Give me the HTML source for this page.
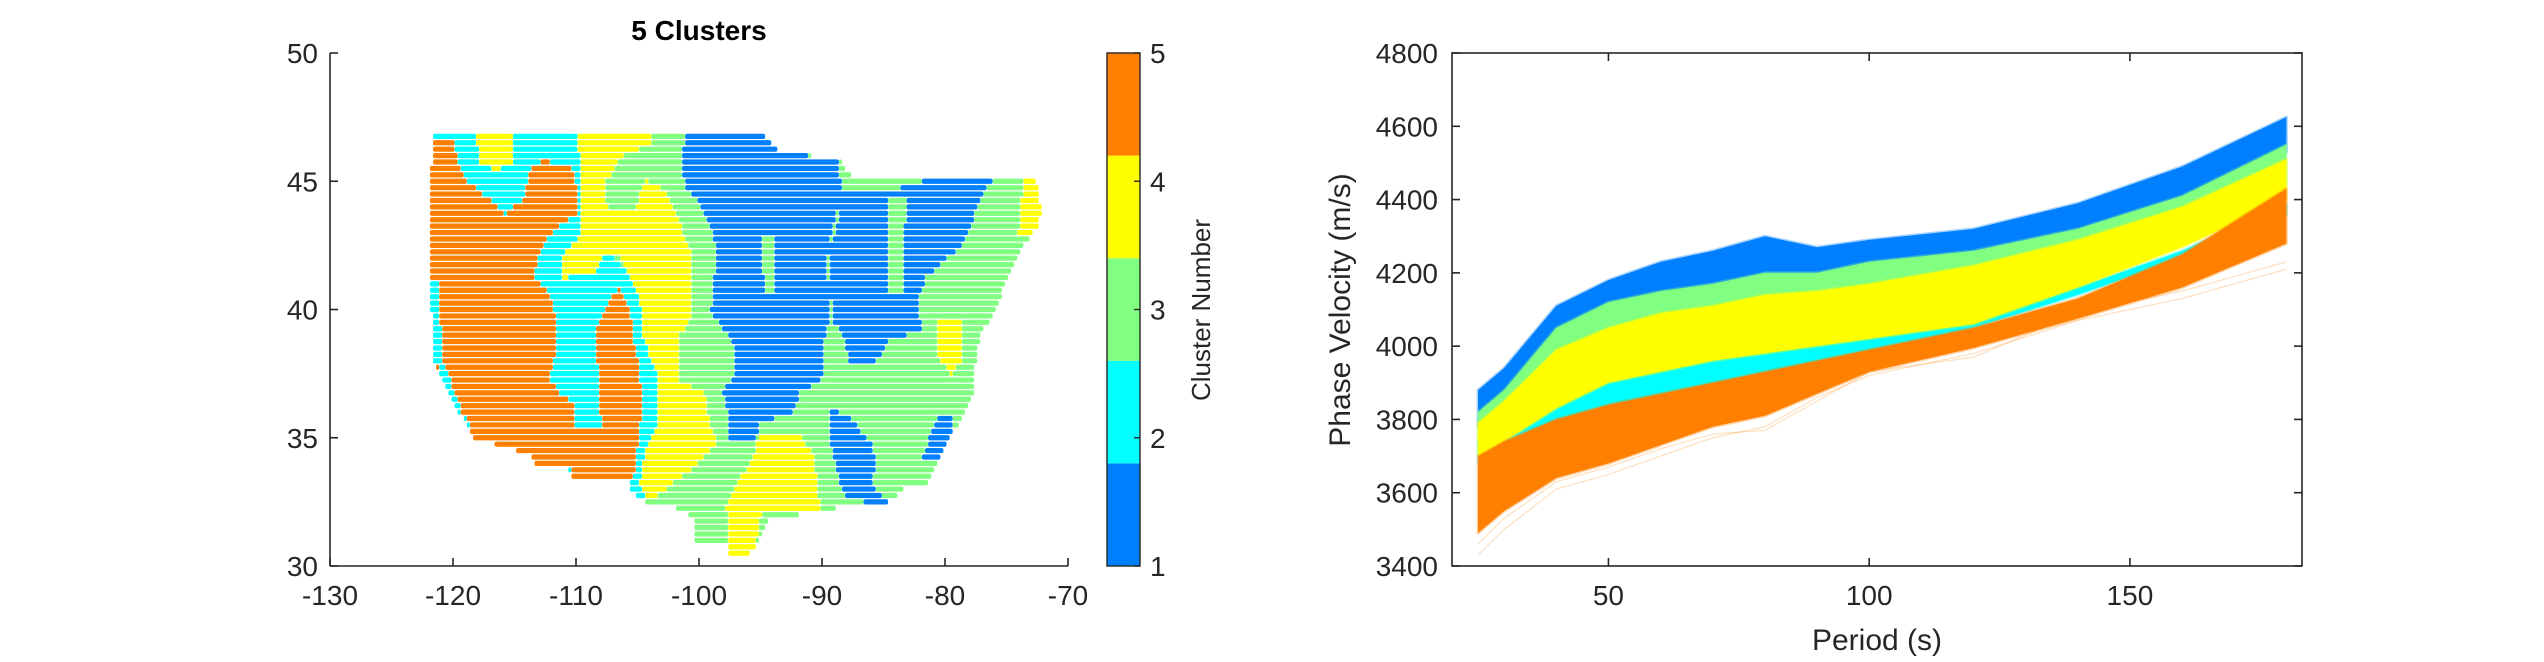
<!DOCTYPE html>
<html><head><meta charset="utf-8">
<style>
html,body{margin:0;padding:0;background:#fff;}
svg{display:block;font-family:"Liberation Sans",Arial,sans-serif;}
</style></head>
<body>
<svg id="fig" width="2544" height="662" viewBox="0 0 2544 662" xmlns="http://www.w3.org/2000/svg">
<rect width="2544" height="662" fill="#fff"/>
<g id="map"></g>
<g id="cbar"></g>
<g id="vel"></g>
</svg>
<script>
// ---------- Map data (digitized region outlines, lon/lat derived) ----------
const mapLonTicks = [-130,-120,-110,-100,-90,-80,-70];
const mapLatTicks = [30,35,40,45,50];
const clusterColors = ['#0080ff','#00ffff','#80ff80','#ffff00','#ff8000'];
const clusterLabels = ['1','2','3','4','5'];
const outlineDig = [[290,318],[800,318],[830,360],[920,378],[940,420],[1040,425],[1228,425],[1237,500],[1230,540],[1210,580],[1190,640],[1165,735],[1140,800],[1135,850],[1130,930],[1125,960],[1100,1020],[1080,1080],[1065,1120],[1060,1145],[1020,1160],[995,1195],[950,1190],[915,1205],[880,1215],[810,1230],[795,1290],[780,1315],[750,1315],[745,1280],[695,1285],[695,1230],[670,1205],[620,1190],[598,1170],[595,1140],[545,1135],[505,1135],[500,1110],[445,1105],[440,1080],[380,1050],[350,1045],[340,1000],[320,960],[300,900],[290,860],[285,740],[285,400],[290,330]];
const cyanDig = [[283,310],[520,310],[525,550],[560,600],[600,650],[630,800],[645,900],[640,1000],[625,1100],[620,1190],[595,1190],[590,1140],[283,1140]];
const orangeDig = [[290,330],[320,330],[330,400],[340,430],[380,480],[400,510],[430,470],[440,400],[460,380],[505,400],[515,470],[515,510],[490,530],[470,560],[455,600],[445,660],[470,700],[480,760],[480,820],[470,900],[490,940],[510,960],[505,1020],[555,1020],[545,950],[545,880],[540,780],[565,700],[580,685],[595,730],[600,800],[610,880],[615,960],[605,1080],[600,1140],[505,1140],[500,1100],[445,1100],[440,1080],[380,1050],[350,1050],[345,1010],[330,970],[310,930],[295,880],[290,820],[285,700],[285,400]];
const cyanWestDig = [[283,660],[296,660],[302,850],[335,985],[348,1012],[333,1012],[300,905],[283,770]];
const yellow1Dig = [[355,305],[415,305],[410,390],[385,405],[360,390]];
const yellow2Dig = [[515,320],[630,320],[625,345],[585,370],[570,400],[555,440],[555,490],[600,500],[620,430],[640,440],[660,480],[680,560],[690,600],[690,680],[690,760],[670,800],[670,900],[710,930],[720,1000],[730,1050],[700,1100],[650,1160],[620,1190],[610,1140],[620,1060],[640,1000],[640,900],[615,800],[610,700],[590,650],[580,610],[550,610],[540,650],[490,660],[490,600],[520,560],[520,420],[515,360]];
const yellow3Dig = [[800,1030],[860,1030],[880,1080],[890,1180],[895,1210],[800,1210],[790,1300],[775,1315],[750,1315],[745,1200],[760,1150],[780,1100]];
const yellow4Dig = [[1075,760],[1110,750],[1115,850],[1095,890],[1075,840]];
const yellow5Dig = [[1210,425],[1232,425],[1238,500],[1225,560],[1200,560],[1205,480]];
const blue1Dig = [[680,318],[800,318],[830,360],[920,380],[925,450],[910,550],[900,640],[910,700],[905,760],[895,830],[895,900],[860,930],[850,980],[800,1000],[790,1040],[750,1040],[745,960],[740,930],[760,880],[760,820],[740,780],[720,740],[725,680],[730,600],[720,540],[700,480],[680,440],[675,400]];
const blue2Dig = [[915,450],[1000,455],[1050,430],[1160,425],[1135,500],[1115,580],[1085,620],[1055,660],[1045,720],[1050,790],[1000,800],[975,870],[935,870],[930,800],[910,760],[905,600],[920,520]];
const blue3Dig = [[905,965],[940,990],[975,1060],[980,1110],[970,1150],[1000,1190],[960,1190],[925,1170],[915,1100],[905,1030]];
const blue4Dig = [[1075,980],[1100,990],[1100,1030],[1085,1100],[1050,1090],[1060,1040]];
const greenStreakDig = [[995,470],[1025,470],[1020,700],[1000,700]];
const greenStreak2Dig = [[800,560],[820,560],[822,700],[805,700]];

// ---------- Velocity data ----------
const periods = [25,30,40,50,60,70,80,90,100,120,140,160,180];
const blueUpper   = [3880,3940,4110,4180,4230,4260,4300,4270,4290,4320,4390,4490,4625];
const blueLower   = [3780,3850,4050,4110,4140,4170,4200,4200,4230,4260,4320,4410,4530];
const greenUpper  = [3820,3880,4050,4120,4150,4170,4200,4200,4230,4260,4320,4410,4550];
const greenLower  = [3720,3780,3940,4000,4030,4060,4080,4100,4120,4150,4210,4300,4440];
const yellowUpper = [3790,3850,3990,4050,4090,4110,4140,4150,4170,4220,4290,4380,4510];
const yellowLower = [3700,3740,3830,3900,3930,3960,3980,4000,4020,4060,4160,4270,4400];
const cyanUpper   = [3740,3780,3860,3930,3960,3990,4010,4030,4050,4100,4160,4260,4390];
const cyanLower   = [3680,3720,3780,3830,3860,3890,3920,3950,3980,4050,4140,4240,4360];
const orangeUpper = [3700,3740,3800,3840,3870,3900,3930,3960,3990,4050,4130,4250,4430];
const orangeLower = [3490,3550,3640,3680,3730,3780,3810,3870,3930,3995,4075,4160,4280];
const orangeOutlier1 = [3430,3500,3610,3650,3700,3750,3780,3860,3920,3980,4070,4130,4210];
const orangeOutlier2 = [3460,3530,3630,3670,3720,3760,3770,3850,3930,3970,4090,4150,4230];
const velYTicks = [3400,3600,3800,4000,4200,4400,4600,4800];
const velXTicks = [50,100,150];

const NS='http://www.w3.org/2000/svg';
function mk(tag, attrs, parent){const e=document.createElementNS(NS,tag);for(const k in attrs)e.setAttribute(k,attrs[k]);parent.appendChild(e);return e;}

// ---------- Map axes ----------
const M={x0:330,x1:1068,y0:566,y1:53,lonMin:-130,lonMax:-70,latMin:30,latMax:50};
const mx=l=>M.x0+(l-M.lonMin)/(M.lonMax-M.lonMin)*(M.x1-M.x0);
const my=l=>M.y0-(l-M.latMin)/(M.latMax-M.latMin)*(M.y0-M.y1);
function dig2geo(p){return p.map(([dx,dy])=>[-130+(dx-127)/19.183, 30+(1341-dy)/60.7]);}
function inside(poly,x,y){let c=false;for(let i=0,j=poly.length-1;i<poly.length;j=i++){const [xi,yi]=poly[i],[xj,yj]=poly[j];if(((yi>y)!==(yj>y))&&(x<(xj-xi)*(y-yi)/(yj-yi)+xi))c=!c;}return c;}
const outline=dig2geo(outlineDig);
const regions=[[2,cyanDig],[5,orangeDig],[2,cyanWestDig],[4,yellow1Dig],[4,yellow2Dig],[4,yellow3Dig],[4,yellow4Dig],[4,yellow5Dig],[1,blue1Dig],[1,blue2Dig],[1,blue3Dig],[1,blue4Dig],[3,greenStreakDig],[3,greenStreak2Dig]].map(([c,p])=>({c,p:dig2geo(p)}));
const mapG=document.getElementById('map');
const dotsG=mk('g',{},mapG);


const step=0.25;
for(let lat=30.5;lat<=46.8;lat+=step){
  let runC=null,runStart=null,prevLon=null;
  const flush=()=>{if(runC!==null){const xa=mx(runStart-step/2),xb=mx(prevLon+step/2);const r=mk('rect',{x:xa,y:my(lat)-2.6,width:xb-xa,height:5.2,rx:2,fill:clusterColors[runC-1]},dotsG);

}runC=null;};
  for(let lon=-122.5;lon<=-71.5;lon+=step){
    let c=null;
    if(inside(outline,lon,lat)){c=3;for(const r of regions){if(inside(r.p,lon,lat))c=r.c;}}
    if(c!==runC){flush();if(c!==null){runC=c;runStart=lon;}}
    prevLon=lon;
  }
  flush();
}
// map axes lines & ticks
const mAx=mk('g',{stroke:'#262626','stroke-width':1.6,fill:'none'},mapG);


mk('line',{x1:M.x0,y1:M.y1,x2:M.x0,y2:M.y0},mAx);
mk('line',{x1:M.x0,y1:M.y0,x2:M.x1,y2:M.y0},mAx);
mapLonTicks.forEach(v=>{mk('line',{x1:mx(v),y1:M.y0,x2:mx(v),y2:M.y0-8},mAx);
const t=mk('text',{x:mx(v),y:605,'text-anchor':'middle','font-size':28,fill:'#262626'},mapG);t.textContent=v;

});
mapLatTicks.forEach(v=>{mk('line',{x1:M.x0,y1:my(v),x2:M.x0+8,y2:my(v)},mAx);
const t=mk('text',{x:318,y:my(v)+10,'text-anchor':'end','font-size':28,fill:'#262626'},mapG);t.textContent=v;

});
const title=mk('text',{x:699,y:40,'text-anchor':'middle','font-size':28,'font-weight':'bold',fill:'#000'},mapG);title.textContent='5 Clusters';



// ---------- Colorbar ----------
const cb=document.getElementById('cbar');
const CB={x:1107,w:33,y0:566,y1:53};
const segH=(CB.y0-CB.y1)/clusterColors.length;
clusterColors.forEach((c,i)=>{const r=mk('rect',{x:CB.x,y:CB.y0-(i+1)*segH,width:CB.w,height:segH,fill:c},cb);

});
mk('rect',{x:CB.x,y:CB.y1,width:CB.w,height:CB.y0-CB.y1,fill:'none',stroke:'#262626','stroke-width':1.4},cb);
clusterLabels.forEach((l,i)=>{const y=CB.y0-i*(CB.y0-CB.y1)/(clusterLabels.length-1);
mk('line',{x1:CB.x+CB.w-6,y1:y,x2:CB.x+CB.w,y2:y,stroke:'#262626','stroke-width':1.4},cb);
const t=mk('text',{x:1150,y:y+10,'font-size':28,fill:'#262626'},cb);t.textContent=l;

});
const cbt=mk('text',{x:0,y:0,'text-anchor':'middle','font-size':26,fill:'#262626',transform:'translate(1210,310) rotate(-90)'},cb);cbt.textContent='Cluster Number';



// ---------- Velocity chart ----------
const V={x0:1452,x1:2302,y0:566,y1:53,pMin:20,pMax:183,vMin:3400,vMax:4800};
const vx=p=>V.x0+(p-V.pMin)/(V.pMax-V.pMin)*(V.x1-V.x0);
const vy=v=>V.y0-(v-V.vMin)/(V.vMax-V.vMin)*(V.y0-V.y1);
const vg=document.getElementById('vel');
function band(up,lo,color,name){
  const pts=periods.map((p,i)=>vx(p)+','+vy(up[i])).concat(periods.slice().reverse().map((p,k)=>{const i=periods.length-1-k;return vx(p)+','+vy(lo[i]);}));
  const poly=mk('polygon',{points:pts.join(' '),fill:color,stroke:color,'stroke-width':3,'stroke-opacity':0.35,'stroke-linejoin':'round'},vg);
  
  
}
function line(vals,color,op,name){
  const l=mk('polyline',{points:periods.map((p,i)=>vx(p)+','+vy(vals[i])).join(' '),fill:'none',stroke:color,'stroke-width':1.2,'stroke-opacity':op},vg);
  
  
}
band(blueUpper,blueLower,clusterColors[0],'cluster-1-band');
band(greenUpper,greenLower,clusterColors[2],'cluster-3-band');
band(cyanUpper,cyanLower,clusterColors[1],'cluster-2-band');
band(yellowUpper,yellowLower,clusterColors[3],'cluster-4-band');
line(orangeOutlier1,'#ff8000',0.25,'cluster-5-outlier');
line(orangeOutlier2,'#ff8000',0.25,'cluster-5-outlier');
band(orangeUpper,orangeLower,clusterColors[4],'cluster-5-band');
const vAx=mk('g',{stroke:'#262626','stroke-width':1.6,fill:'none'},vg);


mk('rect',{x:V.x0,y:V.y1,width:V.x1-V.x0,height:V.y0-V.y1},vAx);
velYTicks.forEach(v=>{mk('line',{x1:V.x0,y1:vy(v),x2:V.x0+8,y2:vy(v)},vAx);mk('line',{x1:V.x1,y1:vy(v),x2:V.x1-8,y2:vy(v)},vAx);
const t=mk('text',{x:1438,y:vy(v)+10,'text-anchor':'end','font-size':28,fill:'#262626'},vg);t.textContent=v;

});
velXTicks.forEach(v=>{mk('line',{x1:vx(v),y1:V.y0,x2:vx(v),y2:V.y0-8},vAx);mk('line',{x1:vx(v),y1:V.y1,x2:vx(v),y2:V.y1+8},vAx);
const t=mk('text',{x:vx(v),y:605,'text-anchor':'middle','font-size':28,fill:'#262626'},vg);t.textContent=v;

});
const xt=mk('text',{x:(V.x0+V.x1)/2,y:650,'text-anchor':'middle','font-size':30,fill:'#262626'},vg);xt.textContent='Period (s)';


const yt=mk('text',{x:0,y:0,'text-anchor':'middle','font-size':30,fill:'#262626',transform:'translate(1350,310) rotate(-90)'},vg);yt.textContent='Phase Velocity (m/s)';


</script>
</body></html>
